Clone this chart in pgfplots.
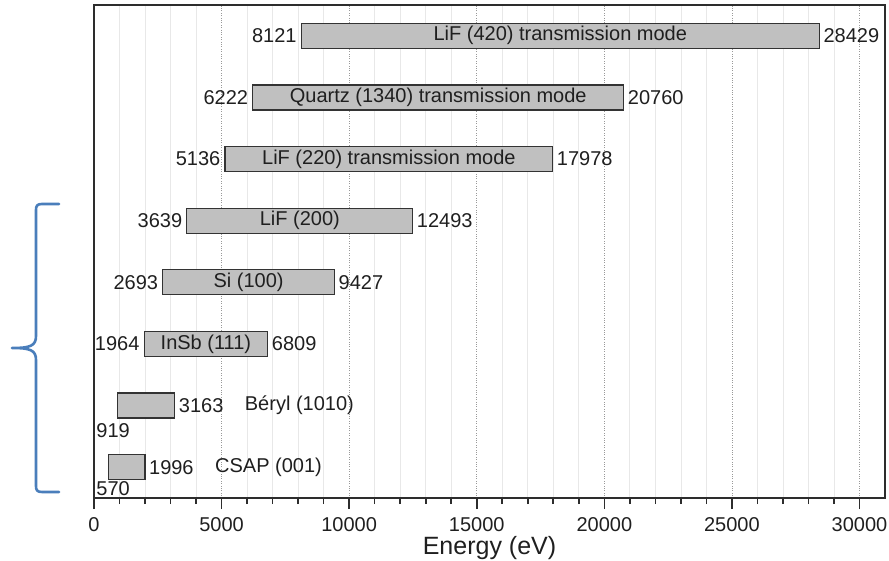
\documentclass[border=0pt]{standalone}
\usepackage{pgfplots}
\usepackage{pgfplotstable}
\usepackage{fontspec}
\setmainfont{Liberation Sans}
\pgfplotsset{compat=1.18}

\definecolor{barfill}{RGB}{192,192,192}
\definecolor{bracecol}{RGB}{74,126,187}
\definecolor{axiscol}{RGB}{45,45,45}

% energy ranges of the analyser crystals (eV); dy places the start value of short bars
\pgfplotstableread{
pos start end name dy
8 8121 28429 {LiF (420) transmission mode} 0
7 6222 20760 {Quartz (1340) transmission mode} 0
6 5136 17978 {LiF (220) transmission mode} 0
5 3639 12493 {LiF (200)} 0
4 2693 9427 {Si (100)} 0
3 1964 6809 {InSb (111)} 0
2 919 3163 {Béryl (1010)} -25
1 570 1996 {CSAP (001)} -21
}\crystals

\begin{document}
\begin{tikzpicture}
\path (0,0) rectangle (889pt,560pt);
\begin{axis}[
  at={(94pt,62pt)}, anchor=south west,
  scale only axis, width=791pt, height=493pt,
  xmin=0, xmax=31000, ymin=0.5, ymax=8.5,
  xtick={0,5000,...,30000}, minor x tick num=4,
  ytick=\empty,
  xtick pos=bottom, tick align=outside,
  major tick length=11pt, minor tick length=6pt,
  every tick/.style={line width=1.6pt, color=axiscol},
  scaled x ticks=false,
  /pgf/number format/.cd, 1000 sep={}, assume math mode=true, /pgfplots/.cd,
  ticklabel style={font=\fontsize{20}{22}\selectfont, color=black!88, inner sep=0pt},
  xticklabel style={yshift=-8pt},
  xlabel={Energy (eV)},
  xlabel style={at={(rel axis cs:0.5,0)}, anchor=base, yshift=-56pt, inner sep=0pt,
    font=\fontsize{25}{28}\selectfont, color=black!88},
  axis line style={line width=2pt, color=axiscol},
  grid=both,
  major grid style={dotted, line width=0.8pt, color=black!40},
  minor grid style={line width=0.7pt, color=black!9},
  xbar stacked, bar width=25pt,
  clip=false,
]
% invisible offset up to the start energy, then the covered range
\addplot[draw=none, fill=none] table[x=start, y=pos] {\crystals};
\addplot[draw=black!80, line width=1.2pt, fill=barfill]
  table[x expr=\thisrow{end}-\thisrow{start}, y=pos] {\crystals};
\end{axis}

\begin{axis}[
  at={(94pt,62pt)}, anchor=south west,
  scale only axis, width=791pt, height=493pt,
  xmin=0, xmax=31000, ymin=0.5, ymax=8.5,
  hide axis, clip=false,
  nodes near coords style={font=\fontsize{20}{22}\selectfont, color=black!88, inner sep=0pt},
]
% start energies, left of the bars
\addplot[only marks, mark=none, nodes near coords, point meta=explicit symbolic,
  restrict y to domain=3:8,
  nodes near coords style={anchor=east, xshift=-4.5pt}]
  table[x=start, y=pos, meta=start] {\crystals};
% end energies, right of the bars
\addplot[only marks, mark=none, nodes near coords, point meta=explicit symbolic,
  nodes near coords style={anchor=west, xshift=4pt}]
  table[x=end, y=pos, meta=end] {\crystals};
% crystal names centred in the bars
\addplot[only marks, mark=none, nodes near coords, point meta=explicit symbolic,
  restrict y to domain=3:8,
  nodes near coords style={anchor=center}]
  table[x expr=(\thisrow{start}+\thisrow{end})/2, y=pos, meta=name] {\crystals};
% short bars: name after the end value
\addplot[only marks, mark=none, nodes near coords, point meta=explicit symbolic,
  restrict y to domain=1:2,
  nodes near coords style={anchor=west, xshift=70pt}]
  table[x=end, y=pos, meta=name] {\crystals};
% short bars: start energy below the bar
\addplot[only marks, mark=none, nodes near coords, point meta=explicit symbolic,
  restrict y to domain=1:2,
  visualization depends on={\thisrow{dy} \as \dy},
  nodes near coords style={anchor=center, yshift=\dy pt}]
  table[x expr=750, y=pos, meta=start] {\crystals};
\end{axis}

% brace grouping the lower six crystals
\draw[bracecol, line width=2.6pt, line cap=round, line join=round]
  (59pt,356pt) -- (42pt,356pt) .. controls (37pt,356pt) and (36pt,354pt) .. (36pt,350pt)
  -- (36pt,224pt) .. controls (36pt,214pt) and (30pt,212pt) .. (12pt,212pt)
  .. controls (30pt,212pt) and (36pt,210pt) .. (36pt,200pt)
  -- (36pt,74pt) .. controls (36pt,70pt) and (37pt,68pt) .. (42pt,68pt) -- (59pt,68pt);
\end{tikzpicture}
\end{document}
